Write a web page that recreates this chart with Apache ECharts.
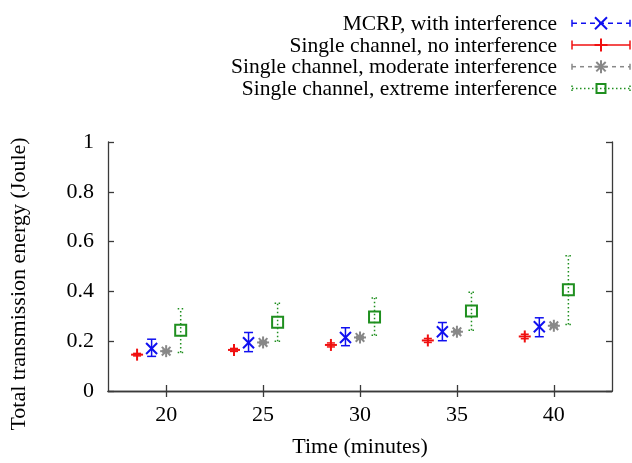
<!DOCTYPE html>
<html>
<head>
<meta charset="utf-8">
<script src="https://cdn.jsdelivr.net/npm/echarts@6/dist/echarts.min.js"></script>
<style>html,body{margin:0;padding:0;background:#fff;}#chart{width:632px;height:463px;}</style>
</head>
<body>
<div id="chart"></div>
<script>
// ---- data ----
const times = [20, 25, 30, 35, 40];
const xTicks = [20, 25, 30, 35, 40];
const yTicks = [0, 0.2, 0.4, 0.6, 0.8, 1];

const seriesNames = [
  'MCRP, with interference',
  'Single channel, no interference',
  'Single channel, moderate interference',
  'Single channel, extreme interference'
];
// x offsets (minutes) of each series around each time
const xOffsets = [-0.75, -1.5, 0, 0.75];

const mcrpMean = [0.171, 0.194, 0.215, 0.238, 0.258];
const mcrpLow  = [0.139, 0.158, 0.182, 0.202, 0.218];
const mcrpHigh = [0.208, 0.235, 0.254, 0.275, 0.294];

const noIntMean = [0.146, 0.165, 0.185, 0.203, 0.219];
const noIntLow  = [0.141, 0.159, 0.177, 0.195, 0.210];
const noIntHigh = [0.151, 0.171, 0.193, 0.211, 0.228];

const modMean = [0.160, 0.195, 0.215, 0.238, 0.262];
const modLow  = [0.156, 0.190, 0.210, 0.233, 0.256];
const modHigh = [0.164, 0.200, 0.220, 0.243, 0.268];

const extMean = [0.244, 0.276, 0.297, 0.321, 0.407];
const extLow  = [0.155, 0.200, 0.224, 0.244, 0.267];
const extHigh = [0.330, 0.352, 0.373, 0.397, 0.543];

// ---- styles ----
const FONT = '"Liberation Serif", "Times New Roman", serif';
const styles = [
  {color: '#1010f0', marker: 'cross',  size: 11, legSize: 12, lw: 2, barDash: null,       capW: 9, legCap: 7, legendDash: [5, 4]},
  {color: '#f01010', marker: 'plus',   size: 12, legSize: 13, lw: 2, barDash: null,       capW: 8, legCap: 9, legendDash: null},
  {color: '#888888', marker: 'star',   size: 12, legSize: 13, lw: 2, barDash: null,       capW: 8, legCap: 6, legendDash: [4, 4]},
  {color: '#1f8f1f', marker: 'square', size: 11, legSize: 9,  lw: 2, barDash: [1.5, 2.5], capW: 6, legCap: 6, legendDash: [1.5, 2.5]}
];

function ln(x1, y1, x2, y2, color, lw, dash) {
  return {type: 'line', shape: {x1, y1, x2, y2}, style: {stroke: color, lineWidth: lw, lineDash: dash || null}};
}
function markerShapes(type, x, y, s, color, lw) {
  const h = s / 2, out = [];
  if (type === 'plus' || type === 'star') {
    out.push(ln(x - h, y, x + h, y, color, lw), ln(x, y - h, x, y + h, color, lw));
  }
  if (type === 'cross' || type === 'star') {
    const d = type === 'star' ? h * 0.72 : h;
    out.push(ln(x - d, y - d, x + d, y + d, color, lw), ln(x - d, y + d, x + d, y - d, color, lw));
  }
  if (type === 'square') {
    out.push({type: 'rect', shape: {x: x - h, y: y - h, width: s, height: s}, style: {stroke: color, fill: 'none', lineWidth: lw}});
  }
  return out;
}

function makeSeries(idx, mean, low, high) {
  const st = styles[idx];
  return {
    type: 'custom',
    name: seriesNames[idx],
    data: times.map((t, i) => [t + xOffsets[idx], mean[i], low[i], high[i]]),
    encode: {x: 0, y: [1, 2, 3]},
    renderItem: function (params, api) {
      const c = api.coord([api.value(0), api.value(1)]);
      const lo = api.coord([api.value(0), api.value(2)]);
      const hi = api.coord([api.value(0), api.value(3)]);
      const w = st.capW / 2;
      const barLw = 1.5;
      const children = [
        ln(c[0], lo[1], c[0], hi[1], st.color, barLw, st.barDash),
        ln(c[0] - w, lo[1], c[0] + w, lo[1], st.color, barLw, st.barDash),
        ln(c[0] - w, hi[1], c[0] + w, hi[1], st.color, barLw, st.barDash)
      ].concat(markerShapes(st.marker, c[0], c[1], st.size, st.color, st.lw));
      return {type: 'group', children};
    }
  };
}

// ---- legend (drawn as graphic, gnuplot-style samples) ----
const legendGraphics = [];
const legTextRight = 557, legX1 = 572, legX2 = 630, legY0 = 23.3, legGap = 21.7;
seriesNames.forEach((name, i) => {
  const st = styles[i];
  const y = legY0 + i * legGap;
  const xm = (legX1 + legX2) / 2;
  const ch = st.legCap / 2;
  legendGraphics.push({
    type: 'text', x: legTextRight, y: y + 1,
    style: {text: name, font: '21.5px ' + FONT, fill: '#000', align: 'right', verticalAlign: 'middle'}
  });
  legendGraphics.push(ln(legX1, y, legX2, y, st.color, 1.5, st.legendDash));
  legendGraphics.push(ln(legX1, y - ch, legX1, y + ch, st.color, 1.5, st.barDash));
  legendGraphics.push(ln(legX2, y - ch, legX2, y + ch, st.color, 1.5, st.barDash));
  markerShapes(st.marker, xm, y, st.legSize, st.color, st.lw).forEach(g => legendGraphics.push(g));
});

const axisLineStyle = {color: '#3a3a3a', width: 1.3};
const chart = echarts.init(document.getElementById('chart'), null, {renderer: 'canvas'});
chart.setOption({
  backgroundColor: '#fff',
  animation: false,
  grid: {left: 107, right: 20, top: 142, bottom: 70, containLabel: false},
  xAxis: [{
    type: 'value', min: 17, max: 43, position: 'bottom',
    name: 'Time (minutes)', nameLocation: 'middle', nameGap: 45,
    nameTextStyle: {fontFamily: FONT, fontSize: 22, color: '#000'},
    axisLine: {show: true, lineStyle: axisLineStyle},
    axisTick: {show: true, inside: true, length: 6, customValues: xTicks, lineStyle: axisLineStyle},
    axisLabel: {customValues: xTicks, fontFamily: FONT, fontSize: 22, color: '#000', margin: 13},
    splitLine: {show: false}
  }, {
    type: 'value', min: 17, max: 43, position: 'top',
    axisLine: {show: true, lineStyle: axisLineStyle},
    axisTick: {show: true, inside: true, length: 6, customValues: xTicks, lineStyle: axisLineStyle},
    axisLabel: {show: false},
    splitLine: {show: false}
  }],
  yAxis: [{
    type: 'value', min: 0, max: 1, interval: 0.2, position: 'left',
    name: 'Total transmission energy (Joule)', nameLocation: 'middle', nameGap: 78,
    nameTextStyle: {fontFamily: FONT, fontSize: 22, color: '#000', padding: [0, 35, 0, 0]},
    axisLine: {show: true, lineStyle: axisLineStyle},
    axisTick: {show: true, inside: true, length: 6, lineStyle: axisLineStyle},
    axisLabel: {fontFamily: FONT, fontSize: 22, color: '#000', margin: 14,
      formatter: v => String(+v.toFixed(1))},
    splitLine: {show: false}
  }, {
    type: 'value', min: 0, max: 1, interval: 0.2, position: 'right',
    axisLine: {show: true, lineStyle: axisLineStyle},
    axisTick: {show: true, inside: true, length: 6, lineStyle: axisLineStyle},
    axisLabel: {show: false},
    splitLine: {show: false}
  }],
  graphic: legendGraphics,
  series: [
    makeSeries(1, noIntMean, noIntLow, noIntHigh),
    makeSeries(0, mcrpMean, mcrpLow, mcrpHigh),
    makeSeries(2, modMean, modLow, modHigh),
    makeSeries(3, extMean, extLow, extHigh)
  ]
});
</script>
</body>
</html>
